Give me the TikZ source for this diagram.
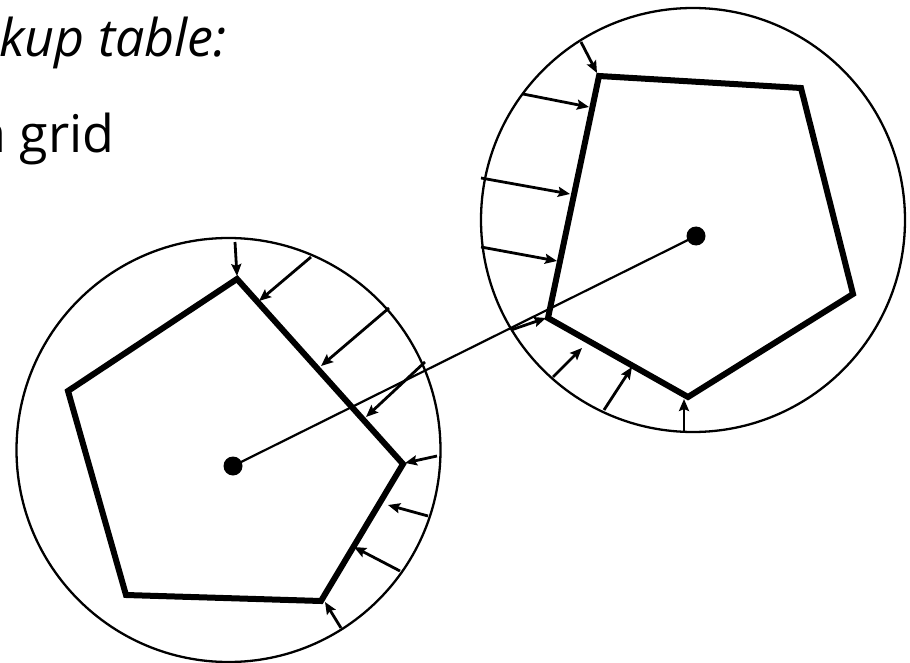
\documentclass[tikz,border=0pt]{standalone}
\usepackage{fontspec}
\setmainfont{Open Sans}
\usetikzlibrary{arrows.meta}
\tikzset{
  ring/.style={line width=2.3pt},
  poly/.style={line width=6pt, line join=miter},
  push/.style={line width=2.8pt, -{Stealth[length=12pt,width=10pt,inset=2pt]}},
  link/.style={line width=2.2pt},
  dot/.style={circle, fill=black, inner sep=0pt, minimum size=19pt},
  txt/.style={inner sep=0pt, anchor=base west, font=\fontsize{52}{60}\selectfont}
}
\begin{document}
\begin{tikzpicture}[x=1pt,y=-1pt]
\useasboundingbox (0,0) rectangle (910,663);
\clip (0,0) rectangle (910,663);

% text
\node[txt] (t1) at (-1,57) {\itshape kup table:};
\node[txt] (t2) at (-23,153) {a grid};

% circles
\draw[ring] (228.5,450) circle[radius=212];
\draw[ring] (693,220) circle[radius=212];

% left pentagon
\coordinate (L1) at (237,279);
\coordinate (L2) at (68,391);
\coordinate (L3) at (126,595);
\coordinate (L4) at (321,601);
\coordinate (L5) at (403,464);
\draw[poly] (L1) -- (L2) -- (L3) -- (L4) -- (L5) -- cycle;

% right pentagon
\coordinate (R1) at (599,76);
\coordinate (R2) at (801,88);
\coordinate (R3) at (853,294);
\coordinate (R4) at (688,397);
\coordinate (R5) at (548,318);
\draw[poly] (R1) -- (R2) -- (R3) -- (R4) -- (R5) -- cycle;

% dots and link
\node[dot] (dl) at (233,466) {};
\node[dot] (dr) at (696,236) {};
\draw[link] (dl.center) -- (dr.center);

% left arrows
\coordinate (a1s) at (235,242); \coordinate (a1e) at (237,276);
\coordinate (a2s) at (311,257); \coordinate (a2e) at (259,301);
\coordinate (a3s) at (389,308); \coordinate (a3e) at (321,366);
\coordinate (a4s) at (425,362); \coordinate (a4e) at (366,417);
\coordinate (a5s) at (437,456); \coordinate (a5e) at (405,463);
\coordinate (a6s) at (428,516); \coordinate (a6e) at (388,505);
\coordinate (a7s) at (400,571); \coordinate (a7e) at (354,547);
\coordinate (a8s) at (341,628); \coordinate (a8e) at (325,602);
\foreach \i in {1,...,8} \draw[push] (a\i s) -- (a\i e);

% right arrows
\coordinate (b1s) at (581,42);  \coordinate (b1e) at (597,73);
\coordinate (b2s) at (523,94);  \coordinate (b2e) at (589,107);
\coordinate (b3s) at (481,178); \coordinate (b3e) at (570,194);
\coordinate (b4s) at (481,247); \coordinate (b4e) at (557,261);
\coordinate (b5s) at (553,377); \coordinate (b5e) at (582,348);
\coordinate (b6s) at (604,410); \coordinate (b6e) at (632,367);
\coordinate (b7s) at (684,431); \coordinate (b7e) at (684,399);
\coordinate (b8s) at (511,330); \coordinate (b8e) at (546,318);
\foreach \i in {1,...,8} \draw[push] (b\i s) -- (b\i e);
\end{tikzpicture}
\end{document}
